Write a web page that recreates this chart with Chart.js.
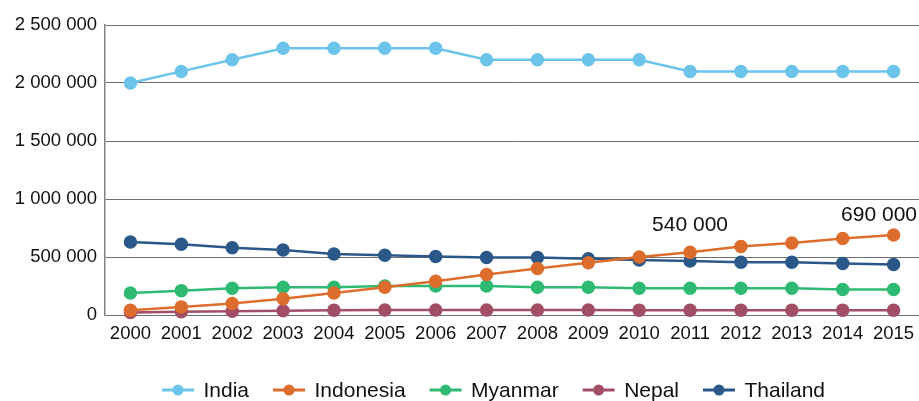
<!DOCTYPE html>
<html>
<head>
<meta charset="utf-8">
<script src="https://cdn.jsdelivr.net/npm/chart.js@4.4.1/dist/chart.umd.min.js"></script>
<style>
  html, body { margin: 0; padding: 0; background: #fff; }
  #wrap { width: 919px; height: 401px; }
</style>
</head>
<body>
<div id="wrap"><canvas id="chart"></canvas></div>
<script>
// Data
const years = ['2000', '2001', '2002', '2003', '2004', '2005', '2006', '2007',
               '2008', '2009', '2010', '2011', '2012', '2013', '2014', '2015'];
const india     = [2000000, 2100000, 2200000, 2300000, 2300000, 2300000, 2300000, 2200000,
                   2200000, 2200000, 2200000, 2100000, 2100000, 2100000, 2100000, 2100000];
const indonesia = [40000, 70000, 100000, 140000, 190000, 240000, 290000, 350000,
                   400000, 450000, 500000, 540000, 590000, 620000, 660000, 690000];
const myanmar   = [190000, 210000, 230000, 240000, 240000, 250000, 250000, 250000,
                   240000, 240000, 230000, 230000, 230000, 230000, 220000, 220000];
const nepal     = [22000, 28000, 33000, 37000, 42000, 43000, 43000, 43000,
                   43000, 43000, 42000, 42000, 42000, 42000, 42000, 42000];
const thailand  = [630000, 610000, 580000, 560000, 525000, 515000, 505000, 495000,
                   495000, 485000, 475000, 465000, 455000, 455000, 445000, 435000];
const yTicks = [0, 500000, 1000000, 1500000, 2000000, 2500000];
// labels written on the Indonesia line
const noteIndex = [11, 15];

const fontFamily = '"Liberation Sans", Arial, Helvetica, sans-serif';
const fmt = v => String(v).replace(/\B(?=(\d{3})+(?!\d))/g, ' ');

const series = [
    { label: 'India', data: india, color: '#6cc4ea' },
    { label: 'Indonesia', data: indonesia, color: '#dd6d2d' },
    { label: 'Myanmar', data: myanmar, color: '#2fba73' },
    { label: 'Nepal', data: nepal, color: '#a14e66' },
    { label: 'Thailand', data: thailand, color: '#2a5889' }
];

// legend drawn by hand: line with a dot, then the name
const lineLegend = {
    id: 'lineLegend',
    afterDraw(chart) {
        const ctx = chart.ctx;
        const y = 390;
        let x = 162;
        ctx.save();
        ctx.font = '21px ' + fontFamily;
        ctx.textBaseline = 'middle';
        chart.data.datasets.forEach(ds => {
            ctx.strokeStyle = ds.borderColor;
            ctx.lineWidth = 3;
            ctx.beginPath();
            ctx.moveTo(x, y);
            ctx.lineTo(x + 32, y);
            ctx.stroke();
            ctx.fillStyle = ds.borderColor;
            ctx.beginPath();
            ctx.arc(x + 16, y, 5.5, 0, Math.PI * 2);
            ctx.fill();
            ctx.fillStyle = '#111';
            ctx.fillText(ds.label, x + 41.5, y + 1);
            x += 41.5 + ctx.measureText(ds.label).width + 24;
        });
        ctx.restore();
    }
};

// value notes above two Indonesia points
const notes = {
    id: 'notes',
    afterDatasetsDraw(chart) {
        const ctx = chart.ctx;
        const xs = chart.scales.x, ys = chart.scales.y;
        const lift = [27, 20];
        ctx.save();
        ctx.font = '21px ' + fontFamily;
        ctx.fillStyle = '#111';
        ctx.textBaseline = 'middle';
        noteIndex.forEach((i, k) => {
            const txt = fmt(indonesia[i]);
            const w = ctx.measureText(txt).width;
            let px = xs.getPixelForValue(i);
            const py = ys.getPixelForValue(indonesia[i]) - lift[k];
            px = Math.min(px, chart.width - 2 - w / 2);
            ctx.textAlign = 'center';
            ctx.fillText(txt, px, py);
        });
        ctx.restore();
    }
};

new Chart(document.getElementById('chart'), {
    type: 'line',
    data: {
        labels: years,
        datasets: series.map(s => ({
            label: s.label,
            data: s.data,
            borderColor: s.color,
            backgroundColor: s.color,
            pointBackgroundColor: s.color,
            pointBorderColor: s.color,
            borderWidth: 2.5,
            pointRadius: 5.5,
            pointHoverRadius: 5.5,
            tension: 0,
            clip: false
        }))
    },
    options: {
        responsive: true,
        maintainAspectRatio: false,
        animation: false,
        layout: { autoPadding: false, padding: { top: 25, right: 0, left: 0, bottom: 56 } },
        plugins: {
            legend: { display: false },
            tooltip: { enabled: false }
        },
        scales: {
            x: {
                offset: true,
                grid: { display: false },
                border: { display: false },
                ticks: {
                    color: '#111',
                    font: { family: fontFamily, size: 18.5 },
                    maxRotation: 0,
                    autoSkip: false,
                    padding: 0
                },
                afterFit: scale => {
                    scale.height = 30;
                    scale.paddingLeft = 0;
                    scale.paddingRight = 0;
                }
            },
            y: {
                min: 0,
                max: 2500000,
                afterBuildTicks: scale => { scale.ticks = yTicks.map(v => ({ value: v })); },
                grid: { color: '#6e6e6e', lineWidth: 1, drawTicks: false },
                border: { display: true, color: '#808080', width: 1.5 },
                ticks: {
                    color: '#111',
                    font: { family: fontFamily, size: 18.5 },
                    padding: 8,
                    callback: v => fmt(v)
                },
                afterFit: scale => {
                    scale.width = 105;
                    scale.paddingTop = 0;
                    scale.paddingBottom = 0;
                }
            }
        }
    },
    plugins: [lineLegend, notes]
});
</script>
</body>
</html>
